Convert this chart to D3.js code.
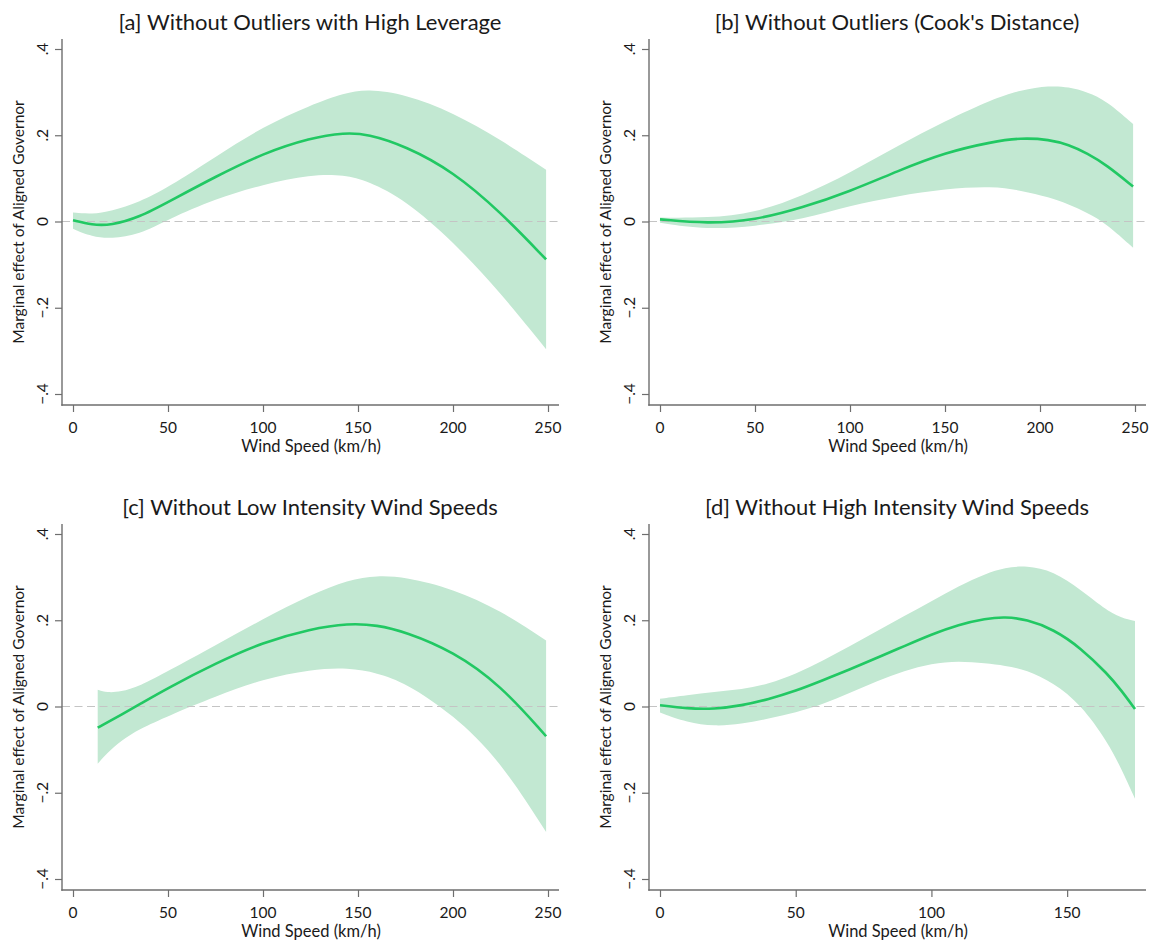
<!DOCTYPE html>
<meta charset="utf-8">
<style>
body { margin: 0; background: #fff; }
text { font-family: Lato, "Open Sans", sans-serif; fill: #1a1a1a; }
.band { fill: #c2e8d2; stroke: none; }
.est { fill: none; stroke: #21c863; stroke-width: 2.6; }
.zero { stroke: #c4c4c4; stroke-width: 1.2; stroke-dasharray: 8,4.5; }
.axisline { stroke: #6e6e6e; stroke-width: 1.4; }
.tick line { stroke: #6e6e6e; stroke-width: 1.2; }
</style>
<body>
<script src="https://cdn.jsdelivr.net/npm/d3@7"></script>
<script>

// panel titles
var titles = ["[a] Without Outliers with High Leverage",
              "[b] Without Outliers (Cook's Distance)",
              "[c] Without Low Intensity Wind Speeds",
              "[d] Without High Intensity Wind Speeds"];

var xLabel = "Wind Speed (km/h)";
var yLabel = "Marginal effect of Aligned Governor";

// tick values
var yTicks = [-0.4, -0.2, 0, 0.2, 0.4];
var xTicksFull = [0, 50, 100, 150, 200, 250];
var xTicksShort = [0, 50, 100, 150];

// [a] without outliers with high leverage
var speedA = [0, 10, 20, 35, 50, 75, 100, 125, 143, 155, 175, 200, 225, 249];
var estA   = [0.003, -0.008, -0.009, 0.010, 0.045, 0.104, 0.158, 0.194, 0.206, 0.203, 0.175, 0.116, 0.022, -0.088];
var loA    = [-0.017, -0.035, -0.040, -0.030, 0.005, 0.053, 0.086, 0.109, 0.108, 0.094, 0.050, -0.046, -0.165, -0.296];
var hiA    = [0.021, 0.017, 0.024, 0.045, 0.079, 0.150, 0.220, 0.270, 0.298, 0.307, 0.295, 0.253, 0.190, 0.120];

// [b] without outliers (Cook's distance)
var speedB = [0, 25, 50, 75, 100, 125, 150, 175, 190, 205, 215, 225, 235, 249];
var estB   = [0.005, -0.005, 0.003, 0.032, 0.070, 0.117, 0.160, 0.185, 0.194, 0.190, 0.178, 0.158, 0.131, 0.081];
var loB    = [-0.003, -0.019, -0.011, 0.005, 0.037, 0.059, 0.076, 0.082, 0.072, 0.056, 0.040, 0.020, -0.005, -0.061];
var hiB    = [0.009, 0.008, 0.020, 0.059, 0.113, 0.175, 0.233, 0.284, 0.305, 0.315, 0.312, 0.300, 0.280, 0.226];

// [c] without low intensity wind speeds
var speedC = [13, 18, 25, 35, 50, 75, 100, 125, 145, 160, 175, 200, 225, 249];
var estC   = [-0.049, -0.037, -0.020, 0.005, 0.043, 0.100, 0.149, 0.180, 0.193, 0.189, 0.173, 0.128, 0.050, -0.069];
var loC    = [-0.133, -0.108, -0.080, -0.052, -0.022, 0.023, 0.064, 0.086, 0.090, 0.078, 0.055, -0.018, -0.126, -0.291];
var hiC    = [0.039, 0.032, 0.034, 0.047, 0.082, 0.142, 0.203, 0.259, 0.294, 0.304, 0.300, 0.273, 0.223, 0.153];

// [d] without high intensity wind speeds
var speedD = [0, 10, 20, 30, 40, 50, 60, 70, 80, 90, 100, 110, 120, 127, 135, 145, 155, 165, 170, 175];
var estD   = [0.003, -0.005, -0.006, 0.002, 0.017, 0.036, 0.061, 0.086, 0.113, 0.140, 0.167, 0.190, 0.204, 0.208, 0.202, 0.179, 0.136, 0.075, 0.037, -0.006];
var loD    = [-0.014, -0.037, -0.046, -0.041, -0.028, -0.014, 0.005, 0.032, 0.059, 0.083, 0.100, 0.106, 0.100, 0.095, 0.085, 0.055, 0.005, -0.083, -0.145, -0.214];
var hiD    = [0.018, 0.026, 0.034, 0.039, 0.052, 0.075, 0.106, 0.140, 0.175, 0.210, 0.244, 0.279, 0.308, 0.322, 0.327, 0.314, 0.271, 0.221, 0.206, 0.198];

function rows(s, e, lo, hi) {
    return s.map(function(v, i) { return {x: v, est: e[i], lo: lo[i], hi: hi[i]}; });
}

var panels = [
    {title: titles[0], data: rows(speedA, estA, loA, hiA), xMax: 250, ticks: xTicksFull,  ox: 0,   oy: 0},
    {title: titles[1], data: rows(speedB, estB, loB, hiB), xMax: 250, ticks: xTicksFull,  ox: 587, oy: 0},
    {title: titles[2], data: rows(speedC, estC, loC, hiC), xMax: 250, ticks: xTicksFull,  ox: 0,   oy: 485},
    {title: titles[3], data: rows(speedD, estD, loD, hiD), xMax: 175, ticks: xTicksShort, ox: 587, oy: 485}
];

var svg = d3.select("body").append("svg")
    .attr("width", 1154)
    .attr("height", 943);

var fmtY = function(d) {
    if (d === 0) return "0";
    return d3.format(".1f")(d).replace("0.", ".");
};

panels.forEach(function(p) {
    var g = svg.append("g").attr("transform", "translate(" + p.ox + "," + p.oy + ")");

    var x = d3.scaleLinear().domain([0, p.xMax]).range([73, 548]);
    var y = d3.scaleLinear().domain([-0.4, 0.4]).range([394, 49]);

    var area = d3.area()
        .x(function(d) { return x(d.x); })
        .y0(function(d) { return y(d.lo); })
        .y1(function(d) { return y(d.hi); })
        .curve(d3.curveBasis);

    var line = d3.line()
        .x(function(d) { return x(d.x); })
        .y(function(d) { return y(d.est); })
        .curve(d3.curveBasis);

    g.append("path").datum(p.data).attr("class", "band").attr("d", area);

    g.append("line").attr("class", "zero")
        .attr("x1", 62).attr("x2", 559)
        .attr("y1", y(0)).attr("y2", y(0));

    g.append("path").datum(p.data).attr("class", "est").attr("d", line);

    // axes
    var xAxis = g.append("g")
        .attr("transform", "translate(0,405)")
        .call(d3.axisBottom(x).tickValues(p.ticks).tickSize(7));
    xAxis.select(".domain").remove();
    xAxis.selectAll("text").remove();

    g.selectAll(".xlab").data(p.ticks).enter().append("text")
        .attr("x", function(d) { return x(d); })
        .attr("y", 433)
        .attr("text-anchor", "middle")
        .style("font-size", "15.5px")
        .text(function(d) { return d; });

    var yAxis = g.append("g")
        .attr("transform", "translate(62,0)")
        .call(d3.axisLeft(y).tickValues(yTicks).tickSize(7));
    yAxis.select(".domain").remove();
    yAxis.selectAll("text").remove();

    g.selectAll(".ylab").data(yTicks).enter().append("text")
        .attr("transform", function(d) { return "translate(48," + y(d) + ") rotate(-90)"; })
        .attr("text-anchor", "middle")
        .style("font-size", "15.5px")
        .text(fmtY);

    g.append("line").attr("class", "axisline")
        .attr("x1", 62).attr("x2", 62).attr("y1", 39).attr("y2", 405.7);
    g.append("line").attr("class", "axisline")
        .attr("x1", 61.3).attr("x2", 559).attr("y1", 405).attr("y2", 405);

    // titles
    g.append("text")
        .attr("x", 310).attr("y", 30)
        .attr("text-anchor", "middle")
        .style("font-size", "22px")
        .text(p.title);

    g.append("text")
        .attr("x", 311).attr("y", 452)
        .attr("text-anchor", "middle")
        .style("font-size", "16.5px")
        .text(xLabel);

    g.append("text")
        .attr("transform", "translate(24,222) rotate(-90)")
        .attr("text-anchor", "middle")
        .style("font-size", "15.5px")
        .text(yLabel);
});

</script>
</body>
